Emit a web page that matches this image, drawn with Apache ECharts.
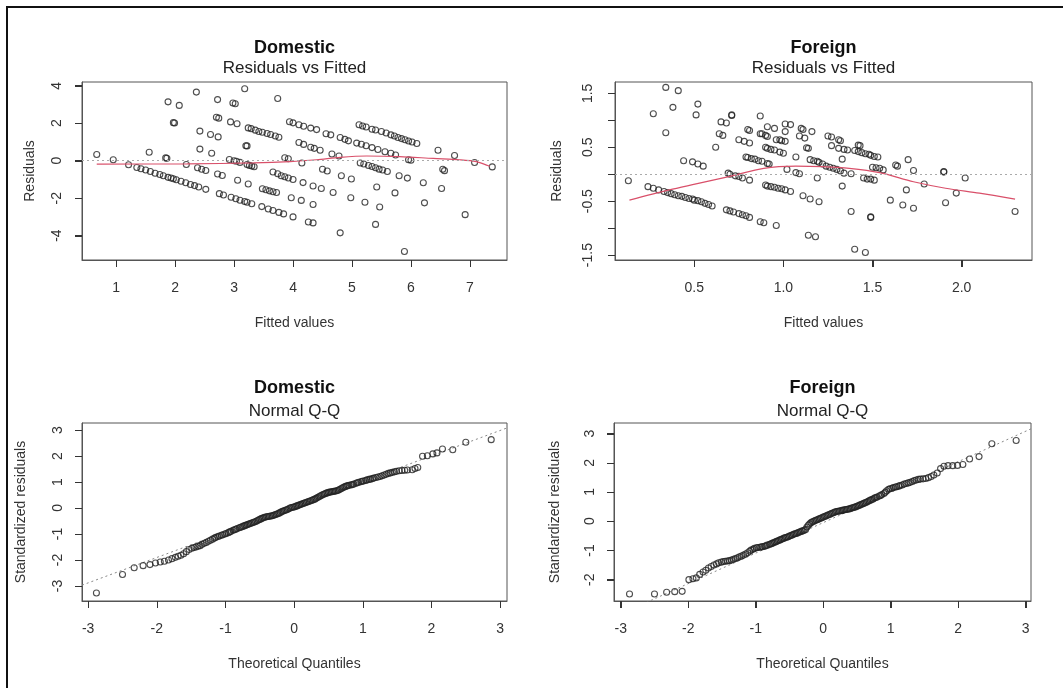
<!DOCTYPE html>
<html>
<head>
<meta charset="utf-8">
<script src="https://cdn.jsdelivr.net/npm/echarts@6/dist/echarts.min.js"></script>
<style>
html,body{margin:0;padding:0;background:#fff;}
#chart{width:1063px;height:688px;}
</style>
</head>
<body>
<div id="chart"></div>
<script>
// ---------- Data ----------
// Domestic: Residuals vs Fitted  [fitted, residual]
const domRvF = [
[0.67,0.33],[0.95,0.05],[1.21,-0.22],[1.35,-0.36],[1.42,-0.43],[1.50,-0.50],[1.58,-0.58],[1.66,-0.67],[1.74,-0.74],[1.80,-0.80],
[1.88,-0.89],[1.93,-0.92],[1.97,-0.96],[2.02,-1.02],[2.10,-1.10],[2.18,-1.18],[2.26,-1.27],[2.33,-1.33],[2.40,-1.40],[2.52,-1.53],
[2.75,-1.76],[2.82,-1.83],[2.95,-1.95],[3.03,-2.03],[3.10,-2.11],[3.18,-2.18],[3.22,-2.22],[3.30,-2.30],[3.47,-2.45],[3.58,-2.58],
[3.66,-2.66],[3.76,-2.76],[3.84,-2.84],[4.00,-3.00],[4.26,-3.27],[4.34,-3.32],[4.80,-3.85],[5.89,-4.85],
[1.56,0.45],[1.84,0.15],[1.86,0.13],[2.19,-0.20],[2.38,-0.38],[2.45,-0.46],[2.52,-0.52],[2.72,-0.71],[2.80,-0.79],[3.06,-1.04],
[3.24,-1.24],[3.48,-1.50],[3.54,-1.55],[3.60,-1.61],[3.66,-1.66],[3.72,-1.70],[3.97,-1.98],[4.14,-2.12],[4.34,-2.34],[5.40,-3.40],
[2.42,0.62],[2.62,0.40],[2.92,0.06],[3.00,0.00],[3.04,-0.03],[3.10,-0.09],[3.22,-0.20],[3.26,-0.25],[3.30,-0.28],[3.34,-0.32],
[3.66,-0.60],[3.74,-0.70],[3.80,-0.80],[3.86,-0.86],[3.92,-0.92],[4.00,-1.00],[4.17,-1.17],[4.34,-1.35],[4.48,-1.48],[4.68,-1.70],
[4.98,-1.98],[5.22,-2.22],[5.47,-2.47],
[1.97,2.03],[1.99,2.01],[2.42,1.58],[2.60,1.40],[2.73,1.27],[3.20,0.80],[3.22,0.79],[3.86,0.16],[3.92,0.10],[4.15,-0.12],
[4.50,-0.46],[4.58,-0.55],[4.82,-0.80],[4.99,-0.98],[5.42,-1.40],[5.73,-1.72],[6.23,-2.25],[6.92,-2.88],
[1.88,3.14],[2.07,2.95],[2.70,2.32],[2.74,2.27],[2.94,2.07],[3.05,1.97],[3.24,1.75],[3.29,1.71],[3.36,1.63],[3.42,1.56],
[3.48,1.52],[3.56,1.45],[3.62,1.40],[3.70,1.32],[3.76,1.25],[4.10,0.97],[4.18,0.87],[4.30,0.72],[4.36,0.66],[4.46,0.56],
[4.66,0.36],[4.78,0.25],[5.14,-0.12],[5.20,-0.18],[5.28,-0.26],[5.34,-0.31],[5.40,-0.38],[5.46,-0.45],[5.52,-0.50],[5.60,-0.58],
[5.80,-0.80],[5.94,-0.93],[6.21,-1.18],[6.52,-1.48],
[2.36,3.66],[2.72,3.26],[2.98,3.08],[3.02,3.04],[3.94,2.08],[4.00,2.02],[4.10,1.92],[4.18,1.84],[4.30,1.74],[4.40,1.66],
[4.56,1.44],[4.64,1.38],[4.80,1.24],[4.88,1.14],[4.94,1.06],[5.08,0.94],[5.16,0.88],[5.24,0.80],[5.34,0.70],[5.44,0.60],
[5.56,0.48],[5.66,0.40],[5.74,0.30],[5.96,0.05],[6.00,0.02],[6.54,-0.46],[6.57,-0.53],
[3.18,3.84],[3.74,3.32],[5.12,1.92],[5.18,1.85],[5.24,1.80],[5.34,1.68],[5.40,1.64],[5.50,1.56],[5.58,1.48],[5.66,1.38],
[5.72,1.32],[5.78,1.24],[5.84,1.18],[5.90,1.12],[5.96,1.05],[6.02,1.00],[6.10,0.92],[6.46,0.56],[6.74,0.28],[7.08,-0.10],[7.38,-0.33]
];
// Domestic smoother (red)
const domSmooth = [[0.67,-0.18],[2.20,-0.17],[3.33,-0.12],[3.95,-0.05],[4.40,0.05],[4.80,0.18],[5.25,0.25],[5.81,0.22],[6.38,0.12],[6.83,0.05],[7.11,-0.05],[7.34,-0.30]];

// Foreign: Residuals vs Fitted [fitted, residual]
const forRvF = [
[0.13,-0.12],[0.27,1.12],[0.34,0.77],[0.34,1.61],[0.38,1.24],[0.41,1.55],[0.44,0.25],[0.51,1.10],[0.52,1.30],
[0.49,0.23],[0.52,0.19],[0.55,0.15],[0.62,0.50],[0.65,0.97],[0.68,0.95],[0.64,0.75],[0.66,0.72],[0.71,1.10],[0.71,1.09],
[0.75,0.64],[0.78,0.61],[0.81,0.58],[0.80,0.83],[0.81,0.81],
[0.79,0.32],[0.80,0.31],[0.82,0.29],[0.84,0.28],[0.86,0.25],[0.88,0.24],[0.91,0.20],[0.92,0.19],
[0.69,0.02],[0.70,0.00],[0.73,-0.03],[0.75,-0.04],[0.77,-0.07],[0.81,-0.11],
[0.87,1.08],[0.87,0.75],[0.88,0.75],[0.90,0.72],[0.91,0.70],
[0.90,0.50],[0.91,0.48],[0.93,0.46],[0.95,0.45],[0.98,0.41],[1.00,0.39],[0.91,0.88],[0.95,0.85],
[0.96,0.64],[0.98,0.64],[0.99,0.62],[1.01,0.61],
[0.90,-0.20],[0.91,-0.22],[0.93,-0.23],[0.95,-0.24],[0.97,-0.26],[0.99,-0.27],[1.01,-0.29],[1.04,-0.32],
[1.01,0.93],[1.04,0.92],[1.01,0.79],[1.02,0.09],[1.07,0.32],[1.07,0.03],[1.09,0.01],[1.10,0.85],[1.11,0.83],
[1.09,0.71],[1.12,0.67],[1.13,0.49],[1.14,0.48],[1.16,0.79],
[1.15,0.27],[1.17,0.25],[1.19,0.24],[1.20,0.22],[1.22,0.19],[1.24,0.15],[1.26,0.13],[1.28,0.11],[1.30,0.09],[1.32,0.06],[1.34,0.02],
[1.11,-0.40],[1.15,-0.46],[1.20,-0.51],[1.19,-0.07],[1.14,-1.13],[1.18,-1.16],
[1.25,0.71],[1.27,0.69],[1.31,0.64],[1.32,0.62],[1.27,0.53],[1.31,0.48],[1.34,0.46],[1.36,0.45],
[1.33,-0.22],[1.33,0.28],[1.38,0.01],[1.38,-0.69],[1.42,0.54],[1.43,0.53],
[1.40,0.44],[1.42,0.42],[1.44,0.40],[1.46,0.38],[1.48,0.37],[1.49,0.35],[1.51,0.33],[1.53,0.32],
[1.45,-0.07],[1.47,-0.09],[1.49,-0.09],[1.51,-0.11],[1.49,-0.79],[1.49,-0.80],[1.40,-1.39],[1.46,-1.45],
[1.50,0.13],[1.52,0.12],[1.54,0.11],[1.56,0.08],[1.60,-0.48],[1.63,0.17],[1.64,0.15],[1.67,-0.57],[1.69,-0.29],
[1.70,0.27],[1.73,0.07],[1.73,-0.63],[1.79,-0.18],[1.90,0.05],[1.90,0.04],[1.91,-0.53],[1.97,-0.35],[2.02,-0.07],[2.30,-0.69],
[0.24,-0.23],[0.27,-0.26],[0.30,-0.29],[0.33,-0.32],[0.35,-0.34],[0.37,-0.36],[0.39,-0.38],[0.41,-0.40],[0.43,-0.41],
[0.45,-0.43],[0.47,-0.45],[0.49,-0.46],[0.50,-0.48],[0.52,-0.49],[0.54,-0.51],[0.56,-0.54],[0.58,-0.56],[0.60,-0.59],
[0.68,-0.66],[0.70,-0.68],[0.72,-0.70],[0.75,-0.73],[0.77,-0.75],[0.79,-0.77],[0.81,-0.80],[0.87,-0.88],[0.89,-0.90],[0.96,-0.95]
];
const forSmooth = [[0.136,-0.48],[0.36,-0.29],[0.51,-0.18],[0.70,-0.04],[0.89,0.11],[1.07,0.15],[1.22,0.14],[1.37,0.11],[1.54,0.03],[1.73,-0.14],[1.91,-0.26],[2.10,-0.35],[2.30,-0.46]];

// Domestic: Normal Q-Q [theoretical, standardized residual]
const domQQ = [
[-2.88,-3.27],[-2.50,-2.56],[-2.33,-2.30],[-2.20,-2.22],[-2.10,-2.18],[-2.02,-2.12],[-1.95,-2.08],[-1.89,-2.05],[-1.83,-2.00],
[-1.78,-1.95],[-1.73,-1.90],[-1.69,-1.86],[-1.65,-1.82],[-1.61,-1.76],[-1.57,-1.68],[-1.53,-1.60],[-1.49,-1.55],[-1.46,-1.52],
[-1.43,-1.50],[-1.40,-1.47],[-1.37,-1.45],[-1.34,-1.40],[-1.31,-1.36],[-1.28,-1.33],[-1.25,-1.28],[-1.22,-1.24],[-1.19,-1.20],
[-1.16,-1.16],[-1.14,-1.13],[-1.11,-1.10],[-1.09,-1.08],[-1.06,-1.05],[-1.04,-1.03],[-1.01,-1.00],[-0.99,-0.98],[-0.96,-0.95],
[-0.94,-0.92],[-0.92,-0.90],[-0.89,-0.86],[-0.87,-0.84],[-0.85,-0.82],[-0.83,-0.79],[-0.80,-0.76],[-0.78,-0.74],[-0.76,-0.72],
[-0.74,-0.70],[-0.72,-0.68],[-0.70,-0.66],[-0.68,-0.64],[-0.66,-0.62],[-0.64,-0.60],[-0.62,-0.58],[-0.60,-0.56],[-0.58,-0.54],
[-0.56,-0.52],[-0.54,-0.49],[-0.52,-0.46],[-0.50,-0.44],[-0.48,-0.41],[-0.46,-0.39],[-0.44,-0.37],[-0.42,-0.35],[-0.40,-0.34],
[-0.38,-0.33],[-0.36,-0.32],[-0.34,-0.31],[-0.32,-0.30],[-0.30,-0.28],[-0.28,-0.26],[-0.26,-0.24],[-0.24,-0.22],[-0.22,-0.20],
[-0.20,-0.17],[-0.18,-0.14],[-0.16,-0.12],[-0.14,-0.10],[-0.12,-0.08],[-0.10,-0.06],[-0.08,-0.03],[-0.06,0.00],[-0.04,0.02],
[-0.02,0.03],[0.00,0.04],[0.02,0.06],[0.04,0.08],[0.06,0.10],[0.08,0.12],[0.10,0.14],[0.12,0.16],[0.14,0.18],[0.16,0.20],
[0.18,0.22],[0.20,0.24],[0.22,0.26],[0.24,0.28],[0.26,0.30],[0.28,0.32],[0.30,0.34],[0.32,0.37],[0.34,0.40],[0.36,0.43],
[0.38,0.46],[0.40,0.49],[0.42,0.52],[0.44,0.54],[0.46,0.56],[0.48,0.58],[0.50,0.60],[0.52,0.61],[0.54,0.62],[0.56,0.63],
[0.58,0.64],[0.60,0.65],[0.62,0.66],[0.64,0.68],[0.66,0.71],[0.68,0.74],[0.70,0.77],[0.72,0.80],[0.74,0.82],[0.76,0.84],
[0.78,0.86],[0.80,0.87],[0.83,0.89],[0.85,0.90],[0.87,0.92],[0.90,0.95],[0.92,0.97],[0.94,0.99],[0.97,1.01],[0.99,1.03],
[1.01,1.04],[1.04,1.06],[1.06,1.08],[1.09,1.10],[1.11,1.11],[1.14,1.13],[1.16,1.15],[1.19,1.17],[1.22,1.19],[1.25,1.21],
[1.28,1.24],[1.31,1.27],[1.34,1.30],[1.37,1.33],[1.40,1.35],[1.43,1.37],[1.46,1.39],[1.49,1.41],[1.53,1.43],[1.57,1.44],
[1.61,1.45],[1.65,1.46],[1.72,1.47],[1.76,1.52],[1.80,1.56],[1.87,1.99],[1.94,2.01],[2.02,2.08],[2.08,2.12],[2.16,2.27],
[2.31,2.24],[2.50,2.53],[2.87,2.63]
];
const domQQLine = [[-3.09,-2.97],[3.10,3.08]];

// Foreign: Normal Q-Q
const forQQ = [
[-2.87,-2.49],[-2.50,-2.49],[-2.32,-2.43],[-2.20,-2.41],[-2.09,-2.40],[-1.99,-2.00],[-1.93,-1.97],[-1.88,-1.94],[-1.83,-1.82],
[-1.78,-1.74],[-1.74,-1.68],[-1.70,-1.60],[-1.66,-1.55],[-1.62,-1.50],[-1.58,-1.46],[-1.55,-1.42],[-1.51,-1.40],[-1.48,-1.38],
[-1.45,-1.37],[-1.42,-1.36],[-1.39,-1.35],[-1.36,-1.33],[-1.33,-1.30],[-1.30,-1.28],[-1.27,-1.25],[-1.24,-1.22],[-1.21,-1.19],
[-1.18,-1.16],[-1.15,-1.12],[-1.12,-1.08],[-1.09,-1.03],[-1.07,-0.99],[-1.04,-0.96],[-1.02,-0.93],[-0.99,-0.91],[-0.97,-0.90],
[-0.94,-0.89],[-0.92,-0.88],[-0.90,-0.87],[-0.87,-0.86],[-0.85,-0.84],[-0.83,-0.82],[-0.80,-0.80],[-0.78,-0.78],[-0.76,-0.76],
[-0.74,-0.74],[-0.72,-0.72],[-0.70,-0.70],[-0.68,-0.68],[-0.66,-0.66],[-0.64,-0.64],[-0.62,-0.62],[-0.60,-0.60],[-0.58,-0.58],
[-0.56,-0.56],[-0.54,-0.55],[-0.52,-0.53],[-0.50,-0.51],[-0.48,-0.49],[-0.46,-0.47],[-0.44,-0.45],[-0.42,-0.43],[-0.40,-0.42],
[-0.38,-0.40],[-0.36,-0.38],[-0.34,-0.36],[-0.32,-0.34],[-0.30,-0.33],[-0.28,-0.31],[-0.26,-0.28],[-0.24,-0.20],[-0.22,-0.14],
[-0.20,-0.09],[-0.18,-0.05],[-0.16,-0.02],[-0.14,0.00],[-0.12,0.02],[-0.10,0.04],[-0.08,0.06],[-0.06,0.08],[-0.04,0.10],
[-0.02,0.12],[0.00,0.14],[0.02,0.16],[0.04,0.18],[0.06,0.20],[0.08,0.22],[0.10,0.24],[0.12,0.26],[0.14,0.28],[0.16,0.30],
[0.18,0.32],[0.20,0.33],[0.22,0.34],[0.24,0.35],[0.26,0.36],[0.28,0.37],[0.30,0.38],[0.32,0.39],[0.34,0.40],[0.36,0.41],
[0.38,0.42],[0.40,0.43],[0.42,0.45],[0.44,0.46],[0.46,0.48],[0.48,0.49],[0.50,0.51],[0.52,0.53],[0.54,0.55],[0.56,0.57],
[0.58,0.59],[0.60,0.61],[0.62,0.63],[0.64,0.65],[0.66,0.67],[0.68,0.70],[0.70,0.72],[0.72,0.74],[0.74,0.76],[0.76,0.79],
[0.78,0.81],[0.80,0.83],[0.83,0.86],[0.85,0.88],[0.87,0.91],[0.90,0.95],[0.92,0.99],[0.94,1.04],[0.97,1.09],[0.99,1.11],
[1.02,1.13],[1.04,1.15],[1.07,1.17],[1.09,1.18],[1.12,1.20],[1.14,1.22],[1.17,1.24],[1.20,1.27],[1.23,1.29],[1.26,1.31],
[1.29,1.33],[1.32,1.36],[1.35,1.39],[1.38,1.41],[1.41,1.43],[1.44,1.44],[1.48,1.45],[1.52,1.46],[1.56,1.49],[1.60,1.53],
[1.64,1.58],[1.69,1.65],[1.74,1.80],[1.79,1.88],[1.85,1.90],[1.92,1.90],[1.99,1.91],[2.07,1.94],[2.17,2.13],[2.31,2.21],
[2.50,2.65],[2.86,2.76]
];
const forQQLine = [[-2.62,-2.78],[3.08,3.16]];

// Tick values / labels
const domRvFXTicks = [1,2,3,4,5,6,7];
const domRvFYTicks = [-4,-2,0,2,4];
const forRvFXTicks = [0.5,1.0,1.5,2.0];
const forRvFYTicks = [-1.5,-1.0,-0.5,0,0.5,1.0,1.5];
const forRvFYLabels = [-1.5,-0.5,0.5,1.5];
const qqXTicks = [-3,-2,-1,0,1,2,3];
const domQQYTicks = [-3,-2,-1,0,1,2,3];
const forQQYTicks = [-2,-1,0,1,2,3];

const panelTitles = ['Domestic','Foreign','Domestic','Foreign'];
const panelCaptions = ['Residuals vs Fitted','Residuals vs Fitted','Normal Q-Q','Normal Q-Q'];
const xNames = ['Fitted values','Fitted values','Theoretical Quantiles','Theoretical Quantiles'];
const yNames = ['Residuals','Residuals','Standardized residuals','Standardized residuals'];

// ---------- Chart ----------
const FONT = '"Liberation Sans", Arial, sans-serif';
const chart = echarts.init(document.getElementById('chart'), null, {renderer:'canvas'});

const grids = [
  {left:82, top:82, width:425, height:178},
  {left:615, top:82, width:417, height:178},
  {left:82, top:423, width:425, height:178},
  {left:614, top:423, width:417, height:178}
];
const xr = [[0.42,7.63],[0.055,2.395],[-3.09,3.10],[-3.10,3.08]];
const yr = [[-5.3,4.2],[-1.59,1.71],[-3.58,3.27],[-2.73,3.36]];
const xTickSets = [domRvFXTicks, forRvFXTicks, qqXTicks, qqXTicks];
const yTickSets = [domRvFYTicks, forRvFYTicks, domQQYTicks, forQQYTicks];
const yLabelSets = [domRvFYTicks, forRvFYLabels, domQQYTicks, forQQYTicks];
const xFmt = [v=>String(v), v=>v.toFixed(1), v=>String(v), v=>String(v)];
const yNameGaps = [45, 51, 54, 52];
const yLabelMargins = [18, 20, 17, 17];
const TICK_LEN = 7;

const xAxes = grids.map((g,i)=>({
  type:'value', gridIndex:i, min:xr[i][0], max:xr[i][1],
  axisLine:{show:true, onZero:false, lineStyle:{color:'#555', width:1}},
  splitLine:{show:false},
  axisTick:{show:true, length:TICK_LEN, customValues:xTickSets[i].slice(), lineStyle:{color:'#333', width:1}},
  axisLabel:{customValues:xTickSets[i].slice(), formatter:xFmt[i], margin:21, color:'#333', fontSize:14, fontFamily:FONT},
  name:xNames[i], nameLocation:'middle', nameGap:56,
  nameTextStyle:{color:'#333', fontSize:14, fontFamily:FONT}
}));
const yAxes = grids.map((g,i)=>({
  type:'value', gridIndex:i, min:yr[i][0], max:yr[i][1],
  axisLine:{show:true, onZero:false, lineStyle:{color:'#555', width:1}},
  splitLine:{show:false},
  axisTick:{show:true, length:TICK_LEN, customValues:yTickSets[i].slice(), lineStyle:{color:'#333', width:1}},
  axisLabel:{customValues:yLabelSets[i].slice(), rotate:90, margin:yLabelMargins[i], color:'#333', fontSize:14, fontFamily:FONT,
             formatter:v=>String(v)},
  name:yNames[i], nameLocation:'middle', nameGap:yNameGaps[i],
  nameTextStyle:{color:'#333', fontSize:14, fontFamily:FONT}
}));

const pointStyle = {color:'rgba(0,0,0,0)', borderColor:'#222', borderWidth:1.1};
function scatter(i, data){
  return {type:'scatter', xAxisIndex:i, yAxisIndex:i, data, symbol:'circle', symbolSize:6,
          itemStyle:pointStyle, silent:true, z:3};
}
function smooth(i, data){
  return {type:'line', xAxisIndex:i, yAxisIndex:i, data, showSymbol:false, symbol:'none', smooth:0.3,
          lineStyle:{color:'#d9506a', width:1.2}, silent:true, z:4};
}
function refLine(i, data){
  return {type:'line', xAxisIndex:i, yAxisIndex:i, data, showSymbol:false, symbol:'none', clip:true,
          lineStyle:{color:'#888', width:1, type:[2,3]}, silent:true, z:2};
}
function zeroLine(i){
  return {type:'line', xAxisIndex:i, yAxisIndex:i, data:[], silent:true,
          markLine:{silent:true, symbol:'none', label:{show:false},
                    lineStyle:{color:'#aaa', width:1, type:[2,3]}, data:[{yAxis:0}]}};
}

const centers = [294.5, 823.5, 294.5, 822.5];
const titleY = [48, 48, 388, 388];
const capY = [68, 68, 411, 411];
const graphics = [];
for (let i=0;i<4;i++){
  graphics.push({type:'text', x:centers[i], y:titleY[i], silent:true,
    style:{text:panelTitles[i], fill:'#111', font:'bold 18px '+FONT, textAlign:'center', textVerticalAlign:'middle'}});
  graphics.push({type:'text', x:centers[i], y:capY[i], silent:true,
    style:{text:panelCaptions[i], fill:'#222', font:'17px '+FONT, textAlign:'center', textVerticalAlign:'middle'}});
}
graphics.push({type:'line', silent:true, shape:{x1:6, y1:7, x2:1063, y2:7}, style:{stroke:'#111', lineWidth:2}});
graphics.push({type:'line', silent:true, shape:{x1:7, y1:6, x2:7, y2:688}, style:{stroke:'#111', lineWidth:2}});

chart.setOption({
  animation:false,
  backgroundColor:'#fff',
  grid:grids.map(g=>Object.assign({show:true, borderColor:'#555', borderWidth:1}, g)),
  xAxis:xAxes,
  yAxis:yAxes,
  graphic:graphics,
  series:[
    zeroLine(0), scatter(0, domRvF), smooth(0, domSmooth),
    zeroLine(1), scatter(1, forRvF), smooth(1, forSmooth),
    refLine(2, domQQLine), scatter(2, domQQ),
    refLine(3, forQQLine), scatter(3, forQQ)
  ]
});

// Extra tick marks positioned through each grid's own coordinate system
function toPx(i, x, y){
  let p = null;
  try { p = chart.convertToPixel({gridIndex:i}, [x, y]); } catch(e) { p = null; }
  if (!p || !isFinite(p[0]) || !isFinite(p[1])) {
    const g = grids[i];
    p = [g.left + (x - xr[i][0]) / (xr[i][1] - xr[i][0]) * g.width,
         g.top + g.height - (y - yr[i][0]) / (yr[i][1] - yr[i][0]) * g.height];
  }
  return p;
}
const tickGraphics = [];
for (let i=0;i<4;i++){
  const g = grids[i];
  const yb = g.top + g.height;
  xTickSets[i].forEach(v=>{
    const px = Math.round(toPx(i, v, yr[i][0])[0]) + 0.5;
    tickGraphics.push({type:'line', silent:true, z:10, shape:{x1:px, y1:yb, x2:px, y2:yb+TICK_LEN},
                       style:{stroke:'#333', lineWidth:1}});
  });
  yTickSets[i].forEach(v=>{
    const py = Math.round(toPx(i, xr[i][0], v)[1]) + 0.5;
    tickGraphics.push({type:'line', silent:true, z:10, shape:{x1:g.left-TICK_LEN, y1:py, x2:g.left, y2:py},
                       style:{stroke:'#333', lineWidth:1}});
  });
}
try {
  chart.setOption({graphic: graphics.concat(tickGraphics)});
} catch(e) {
  console.error(e);
}
</script>
</body>
</html>
